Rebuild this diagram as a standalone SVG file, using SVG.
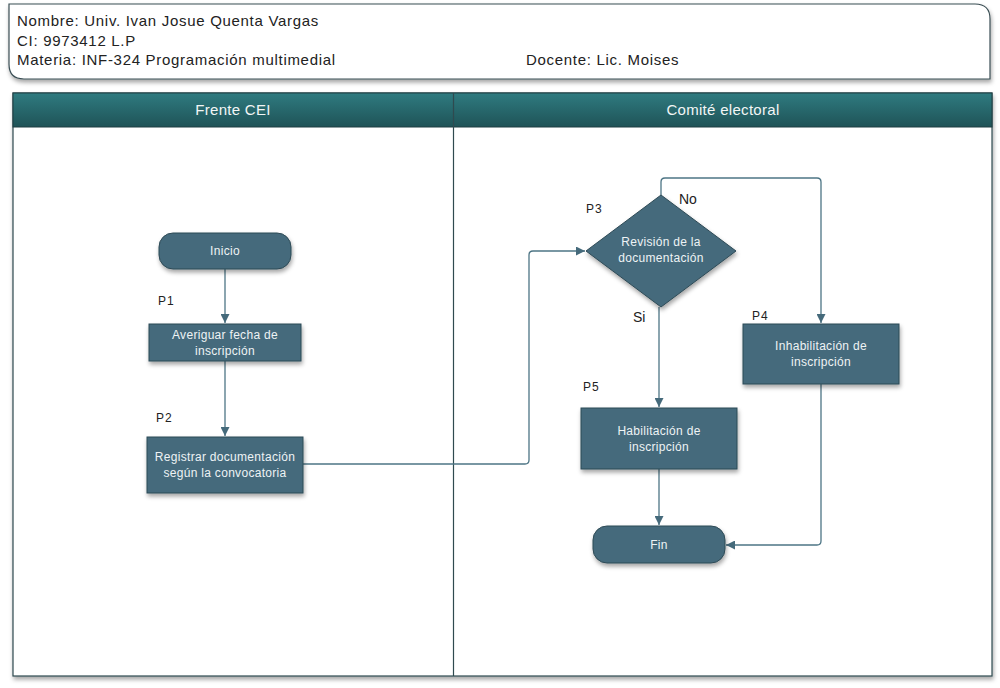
<svg xmlns="http://www.w3.org/2000/svg" width="1000" height="688" viewBox="0 0 1000 688">
<defs>
<linearGradient id="hdr" x1="0" y1="0" x2="0" y2="1">
<stop offset="0" stop-color="#2f7b80"/>
<stop offset="1" stop-color="#1f5357"/>
</linearGradient>
<filter id="sh" x="-10%" y="-10%" width="130%" height="140%">
<feDropShadow dx="1" dy="3" stdDeviation="2" flood-color="#000" flood-opacity="0.35"/>
</filter>
<marker id="ah" viewBox="0 0 10 10" refX="10" refY="5" markerWidth="9" markerHeight="9" markerUnits="userSpaceOnUse" orient="auto">
<path d="M0,0 L10,5 L0,10 z" fill="#456a7b"/>
</marker>
<style>
.node{fill:#456a7b;stroke:#2e4a56;stroke-width:1;filter:url(#sh)}
.nt{font-family:"Liberation Sans",Arial,sans-serif;font-size:12px;fill:#eef3f5;text-anchor:middle;letter-spacing:0.3px}
.lbl{font-family:"Liberation Sans",Arial,sans-serif;font-size:12px;fill:#222;letter-spacing:1px}
.hd{font-family:"Liberation Sans",Arial,sans-serif;font-size:15px;fill:#222;letter-spacing:0.7px}
.lane{font-family:"Liberation Sans",Arial,sans-serif;font-size:15px;fill:#f2f6f6;text-anchor:middle;letter-spacing:0.3px}
.con{fill:none;stroke:#4d7585;stroke-width:1.3}
</style>
</defs>
<rect width="1000" height="688" fill="#fff"/>
<g id="header">
<path d="M9,4 H975 Q990,4 990,19 V79 H24 Q9,79 9,64 Z" fill="#fff" stroke="#3b4f55" stroke-width="1.2" filter="url(#sh)"/>
<text class="hd" x="17" y="26">Nombre: Univ. Ivan Josue Quenta Vargas</text>
<text class="hd" x="17" y="46">CI: 9973412 L.P</text>
<text class="hd" x="17" y="65">Materia: INF-324 Programación multimedial</text>
<text class="hd" x="526" y="65">Docente: Lic. Moises</text>
</g>
<g id="pool">
<rect x="13" y="93" width="979" height="583" fill="#fff" stroke="#2f4a4f" stroke-width="1.2" filter="url(#sh)"/>
<rect x="13" y="93" width="979" height="34" fill="url(#hdr)" stroke="#1f3f42" stroke-width="1"/>
<line x1="453.5" y1="93" x2="453.5" y2="676" stroke="#2f4a4f" stroke-width="1.2"/>
<text class="lane" x="233" y="115">Frente CEI</text>
<text class="lane" x="723" y="115">Comité electoral</text>
</g>
<g id="connectors">
<path class="con" d="M225,269 V323" marker-end="url(#ah)"/>
<path class="con" d="M225,361 V436" marker-end="url(#ah)"/>
<path class="con" d="M303,464 H525 Q529,464 529,460 V255 Q529,251 533,251 H585" marker-end="url(#ah)"/>
<path class="con" d="M661,195 V182 Q661,178 665,178 H817 Q821,178 821,182 V323" marker-end="url(#ah)"/>
<path class="con" d="M659,307 V407" marker-end="url(#ah)"/>
<path class="con" d="M659,469 V525" marker-end="url(#ah)"/>
<path class="con" d="M821,384 V541 Q821,545 817,545 H726" marker-end="url(#ah)"/>
</g>
<g id="inicio">
<rect class="node" x="159" y="233" width="132" height="36" rx="14"/>
<text class="nt" x="225" y="255">Inicio</text>
</g>
<g id="p1">
<text class="lbl" x="158" y="305">P1</text>
<rect class="node" x="149" y="324" width="152" height="37"/>
<text class="nt" x="225" y="339">Averiguar fecha de</text>
<text class="nt" x="225" y="355">inscripción</text>
</g>
<g id="p2">
<text class="lbl" x="156" y="422">P2</text>
<rect class="node" x="147" y="437" width="156" height="56"/>
<text class="nt" x="225" y="461">Registrar documentación</text>
<text class="nt" x="225" y="477">según la convocatoria</text>
</g>
<g id="p3">
<text class="lbl" x="586" y="213">P3</text>
<polygon class="node" points="586,251 661,195 736,251 661,307"/>
<text class="nt" x="661" y="246">Revisión de la</text>
<text class="nt" x="661" y="262">documentación</text>
<text class="hd" x="679" y="204" style="font-size:14px;letter-spacing:0">No</text>
<text class="hd" x="633" y="322" style="font-size:14px;letter-spacing:0">Si</text>
</g>
<g id="p4">
<text class="lbl" x="752" y="320">P4</text>
<rect class="node" x="743" y="324" width="156" height="60"/>
<text class="nt" x="821" y="350">Inhabilitación de</text>
<text class="nt" x="821" y="366">inscripción</text>
</g>
<g id="p5">
<text class="lbl" x="583" y="391">P5</text>
<rect class="node" x="581" y="408" width="156" height="61"/>
<text class="nt" x="659" y="435">Habilitación de</text>
<text class="nt" x="659" y="451">inscripción</text>
</g>
<g id="fin">
<rect class="node" x="593" y="526" width="132" height="37" rx="14"/>
<text class="nt" x="659" y="549">Fin</text>
</g>
</svg>
